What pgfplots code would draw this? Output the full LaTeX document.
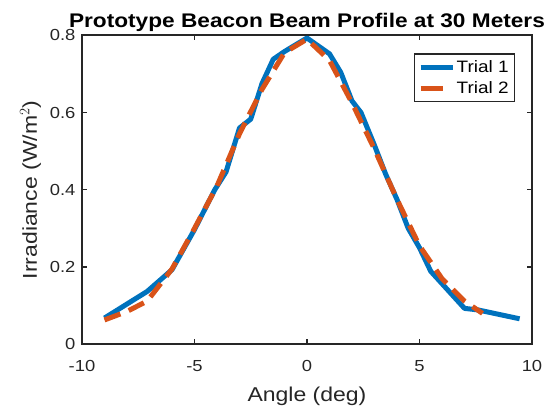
\documentclass[border=0pt]{standalone}
\usepackage{pgfplots}
\pgfplotsset{compat=1.18}
\usepackage{fontspec}
\setmainfont{Liberation Sans}[FakeStretch=1.15]

\definecolor{mblue}{rgb}{0,0.447,0.741}
\definecolor{morange}{rgb}{0.850,0.325,0.098}
\definecolor{axgray}{rgb}{0.15,0.15,0.15}

\begin{document}
\begin{tikzpicture}
% canvas of the reference, 1px = 1pt, axis box at (0,0)
\path[use as bounding box] (-82pt,-66.7pt) rectangle (468pt,344.3pt);
\begin{axis}[
    scale only axis,
    width=450pt, height=309pt,
    xmin=-10, xmax=10,
    ymin=0, ymax=0.8,
    xtick={-10,-5,...,10},
    ytick={0,0.2,...,0.8},
    /pgf/number format/assume math mode=true,
    yticklabel style={/pgf/number format/fixed, /pgf/number format/precision=1},
    tick align=inside,
    major tick length=5pt,
    axis line style={axgray, line width=1.6pt},
    every tick/.style={axgray, line width=1.3pt},
    tick label style={font=\fontsize{16}{19}\selectfont, text=axgray},
    xticklabel style={yshift=-13pt},
    yticklabel style={xshift=-3pt},
    label style={font=\fontsize{20}{24}\selectfont, text=axgray},
    xlabel={Angle (deg)},
    ylabel={Irradiance (W/m$^2$)},
    xlabel style={yshift=-8pt},
    ylabel style={yshift=2pt},
    title={Prototype Beacon Beam Profile at 30 Meters},
    title style={font=\bfseries\fontsize{19.7}{23}\selectfont, yshift=-6pt},
    legend style={at={(0.962,0.942)}, anchor=north east,
        draw=axgray, line width=1.3pt,
        font=\fontsize{16.5}{19}\selectfont,
        inner xsep=4pt, inner ysep=5pt,
        row sep=5pt, nodes={inner sep=1.5pt}},
    legend cell align=left,
    legend image code/.code={\draw[#1] (0pt,0pt) -- (32pt,0pt);},
]
\addplot[mblue, line width=5pt, line join=round] coordinates {
(-9,0.068) (-7.1,0.137) (-6,0.193) (-5,0.297) (-4.1,0.400) (-3.6,0.446)
(-3,0.560) (-2.5,0.583) (-2,0.675) (-1.5,0.738) (-1,0.758) (0,0.793)
(1,0.752) (1.5,0.704) (2,0.630) (2.4,0.600) (3,0.515) (3.5,0.440)
(4,0.375) (4.5,0.300) (5,0.250) (5.5,0.189) (7,0.093) (7.6,0.089) (9.45,0.066)
};
\addlegendentry{Trial 1}
\addplot[morange, line width=5pt, dash pattern=on 17pt off 9pt,
    legend image post style={dash pattern=on 22pt off 12pt}]
    coordinates {
(-9,0.063) (-8,0.085) (-7.1,0.112) (-6,0.195) (-5,0.300) (-4,0.410)
(-3,0.545) (-2,0.660) (-1,0.755) (0,0.790) (1,0.735) (2,0.625)
(3,0.505) (4,0.375) (5,0.255) (6,0.170) (7,0.112) (7.8,0.080)
};
\addlegendentry{Trial 2}
\end{axis}
\end{tikzpicture}
\end{document}
